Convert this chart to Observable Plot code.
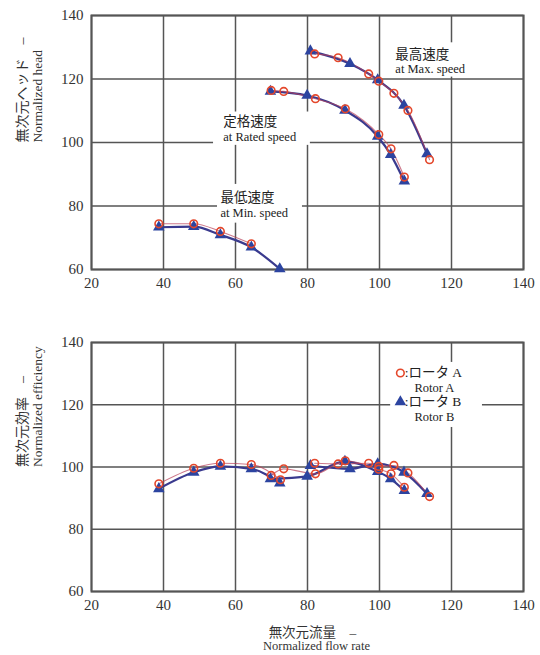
<!DOCTYPE html>
<html><head><meta charset="utf-8">
<script src="https://cdn.jsdelivr.net/npm/d3@7"></script>
<script src="https://cdn.jsdelivr.net/npm/@observablehq/plot@0.6"></script>
<style>
body{margin:0;background:#fff;}
#wrap{position:relative;width:540px;height:655px;overflow:hidden;}
#top,#bot{position:absolute;left:0;}
#top{top:0}
#bot{top:320px}
svg text{font-family:"Liberation Serif","Times New Roman","Noto Sans CJK JP",serif !important;font-weight:normal;}
</style>
</head><body>
<div id="wrap"><div id="top"></div><div id="bot"></div></div>
<script>
// ---- data ----
const xTicks = [20, 40, 60, 80, 100, 120, 140];
const yTicks = [60, 80, 100, 120, 140];

// minimum speed
const minFlowA = [38.7, 48.4, 55.8, 64.4, 72.5];
const minHeadA = [74.4, 74.4, 72.0, 68.1, null];
const minEffA  = [94.6, 99.6, 101.2, 100.8, 95.9];
const minFlowB = [38.7, 48.4, 55.8, 64.4, 72.3];
const minHeadB = [73.3, 73.5, 70.9, 67.0, 60.2];
const minEffB  = [93.0, 98.3, 100.2, 99.4, 94.8];
// rated speed
const ratedFlowA = [69.9, 73.4, 82.2, 90.5, 99.8, 103.2, 106.9];
const ratedHeadA = [116.4, 116.1, 113.8, 110.6, 102.5, 98.0, 89.1];
const ratedEffA  = [97.3, 99.4, 97.8, 102.0, 99.3, 97.8, 93.5];
const ratedFlowB = [69.7, 79.9, 90.4, 99.5, 103.1, 106.9];
const ratedHeadB = [116.1, 114.8, 110.1, 101.9, 96.2, 87.8];
const ratedEffB  = [96.2, 97.0, 101.8, 98.5, 96.2, 92.4];
// maximum speed
const maxFlowA = [82.0, 88.5, 97.0, 99.8, 104.0, 107.9, 113.9];
const maxHeadA = [127.9, 126.7, 121.6, 119.3, 115.5, 110.1, 94.6];
const maxEffA  = [101.2, 101.0, 101.2, 100.2, 100.5, 98.1, 90.5];
const maxFlowB = [80.8, 91.8, 99.5, 106.8, 113.2];
const maxHeadB = [128.8, 124.8, 119.7, 111.7, 96.4];
const maxEffB  = [100.4, 99.4, 101.0, 98.3, 91.4];

const speedLabelsJP = ["最低速度", "定格速度", "最高速度"];
const speedLabelsEN = ["at Min. speed", "at Rated speed", "at Max. speed"];
const rotorLabelsJP = [":ロータ A", ":ロータ B"];
const rotorLabelsEN = ["Rotor A", "Rotor B"];
const headLabel = ["無次元ヘッド　–", "Normalized head"];
const effLabel = ["無次元効率　–", "Normalized efficiency"];
const flowLabel = ["無次元流量　–", "Normalized flow rate"];

// ---- build rows ----
const series = [
  {key: "min-A", rotor: "A", flow: minFlowA, head: minHeadA, eff: minEffA},
  {key: "min-B", rotor: "B", flow: minFlowB, head: minHeadB, eff: minEffB},
  {key: "rated-A", rotor: "A", flow: ratedFlowA, head: ratedHeadA, eff: ratedEffA},
  {key: "rated-B", rotor: "B", flow: ratedFlowB, head: ratedHeadB, eff: ratedEffB},
  {key: "max-A", rotor: "A", flow: maxFlowA, head: maxHeadA, eff: maxEffA},
  {key: "max-B", rotor: "B", flow: maxFlowB, head: maxHeadB, eff: maxEffB}
];
const rows = series.flatMap(s => s.flow.map((f, i) => ({key: s.key, rotor: s.rotor, flow: f, head: s.head[i], eff: s.eff[i]})));

// annotation anchors and white label boxes (data units)
const speedAnn = [
  {jp: speedLabelsJP[0], en: speedLabelsEN[0], x: 55.8, yj: 82.6, ye: 77.8, bx1: 55.0, bx2: 78.6, by1: 74.6, by2: 86.8},
  {jp: speedLabelsJP[1], en: speedLabelsEN[1], x: 56.6, yj: 106.5, ye: 101.7, bx1: 53.9, bx2: 80.8, by1: 99.1, by2: 109.6},
  {jp: speedLabelsJP[2], en: speedLabelsEN[2], x: 104.4, yj: 127.8, ye: 123.0, bx1: 103.1, bx2: 127.5, by1: 120.6, by2: 131.4}
];
const legendAnn = [
  {rotor: "A", jp: rotorLabelsJP[0], en: rotorLabelsEN[0], xs: 105.8, xj: 107.0, xe: 109.7, yj: 130.2, ye: 125.4},
  {rotor: "B", jp: rotorLabelsJP[1], en: rotorLabelsEN[1], xs: 105.8, xj: 107.0, xe: 109.7, yj: 120.9, ye: 116.1}
];
const legendBox = [{bx1: 103.1, bx2: 128.6, by1: 112.7, by2: 133.6}];

const RED = "#e4472b", BLUE = "#2c44a0", LINEB = "#3a3a8e", LINEA = "#b8405a", GRID = "#555";
const SERIF = "Liberation Serif, Times New Roman, Noto Sans CJK JP, serif";

function chart(yKey, marginBottom, height, marginTop, extra) {
  const data = rows.filter(d => d[yKey] != null);
  return Plot.plot({
    width: 540, height, marginLeft: 91, marginRight: 17, marginTop, marginBottom,
    style: {fontFamily: SERIF, fontSize: "15px", color: "#333", background: "#fff"},
    x: {domain: [20, 140]},
    y: {domain: [60, 140]},
    marks: [
      Plot.gridX(xTicks, {stroke: GRID, strokeOpacity: 1, strokeWidth: 1.5}),
      Plot.gridY(yTicks, {stroke: GRID, strokeOpacity: 1, strokeWidth: 1.5}),
      Plot.frame({stroke: GRID, strokeWidth: 2}),
      Plot.axisX({ticks: xTicks, tickSize: 0, tickPadding: 8, label: null, fontSize: 15}),
      Plot.axisY({ticks: yTicks, tickSize: 0, tickPadding: 8, label: null, fontSize: 15}),
      ...extra,
      Plot.line(data.filter(d => d.rotor === "B"), {x: "flow", y: yKey, z: "key", stroke: LINEB, strokeWidth: 2.2, curve: "monotone-x"}),
      Plot.line(data.filter(d => d.rotor === "A"), {x: "flow", y: yKey, z: "key", stroke: LINEA, strokeWidth: 1.1, strokeOpacity: 0.7, curve: "monotone-x"}),
      Plot.dot(data.filter(d => d.rotor === "B"), {x: "flow", y: yKey, symbol: "triangle", r: 4.3, fill: BLUE}),
      Plot.dot(data.filter(d => d.rotor === "A"), {x: "flow", y: yKey, r: 3.8, stroke: RED, strokeWidth: 1.6, fill: "none"})
    ]
  });
}

const topExtra = [
  Plot.rect(speedAnn, {x1: "bx1", x2: "bx2", y1: "by1", y2: "by2", fill: "white"}),
  Plot.text(speedAnn, {x: "x", y: "yj", text: "jp", textAnchor: "start", fontSize: 13.5, fill: "#222"}),
  Plot.text(speedAnn, {x: "x", y: "ye", text: "en", textAnchor: "start", fontSize: 12.5, fill: "#222"}),
  Plot.text([headLabel[0]], {frameAnchor: "left", dx: -69, rotate: -90, fontSize: 14, fill: "#333"}),
  Plot.text([headLabel[1]], {frameAnchor: "left", dx: -54, rotate: -90, fontSize: 13.5, fill: "#333"})
];

const botExtra = [
  Plot.rect(legendBox, {x1: "bx1", x2: "bx2", y1: "by1", y2: "by2", fill: "white"}),
  Plot.text(legendAnn, {x: "xj", y: "yj", text: "jp", textAnchor: "start", fontSize: 13.5, fill: "#222"}),
  Plot.text(legendAnn, {x: "xe", y: "ye", text: "en", textAnchor: "start", fontSize: 12.5, fill: "#222"}),
  Plot.dot(legendAnn.filter(d => d.rotor === "A"), {x: "xs", y: "yj", r: 3.8, stroke: RED, strokeWidth: 1.6, fill: "white"}),
  Plot.dot(legendAnn.filter(d => d.rotor === "B"), {x: "xs", y: "yj", symbol: "triangle", r: 4.3, fill: BLUE}),
  Plot.text([effLabel[0]], {frameAnchor: "left", dx: -69, rotate: -90, fontSize: 14, fill: "#333"}),
  Plot.text([effLabel[1]], {frameAnchor: "left", dx: -54, rotate: -90, fontSize: 13.5, fill: "#333"}),
  Plot.text([flowLabel[0]], {frameAnchor: "bottom", dx: 5, dy: 45, fontSize: 13.5, fill: "#333"}),
  Plot.text([flowLabel[1]], {frameAnchor: "bottom", dx: 9, dy: 58, fontSize: 12.5, fill: "#333"})
];

document.getElementById("top").append(chart("head", 51, 320, 15, topExtra));
document.getElementById("bot").append(chart("eff", 64, 335, 22, botExtra));
</script>
</body></html>
